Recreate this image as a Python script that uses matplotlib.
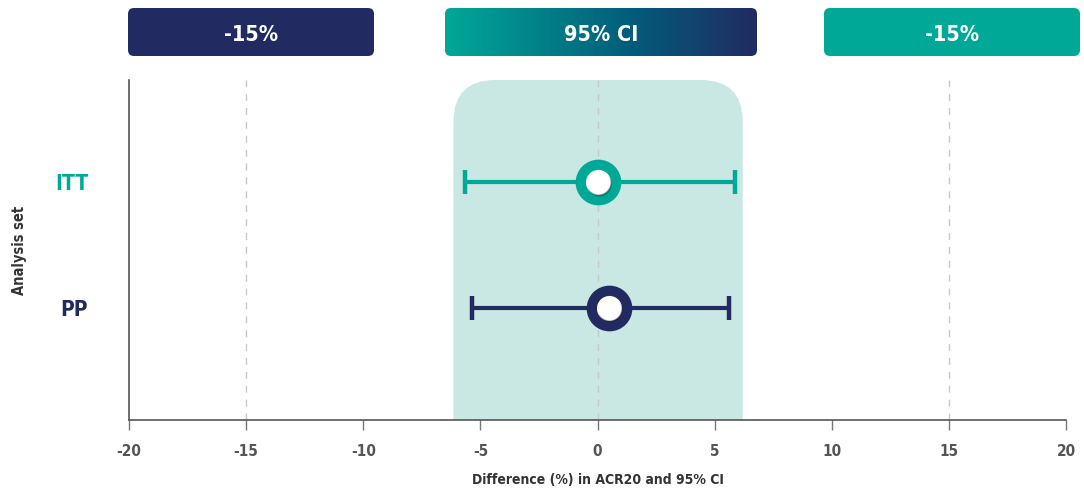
import matplotlib
matplotlib.use("Agg")
import matplotlib.pyplot as plt
import numpy as np
from matplotlib.patches import FancyBboxPatch
from matplotlib.colors import LinearSegmentedColormap
from matplotlib import font_manager

# ---- data ----
groups = ["ITT", "PP"]
group_y = [2, 1]
estimates = [0.0, 0.5]
ci_low = [-5.66, -5.37]
ci_high = [5.86, 5.63]
band_range = [-6.15, 6.2]
margin_lines = [-15, 0, 15]
x_ticks = [-20, -15, -10, -5, 0, 5, 10, 15, 20]
box_labels = ["-15%", "95% CI", "-15%"]

TEAL = "#00A898"
NAVY = "#212B62"
BAND = "#C9E8E3"
GRAY = "#555555"

# ---- font: prefer a condensed sans if installed ----
fl = font_manager.fontManager.ttflist
cands = [f for f in fl if (str(f.stretch) in ("condensed", "semi-condensed", "extra-condensed")
                           or "Condensed" in f.name or "Narrow" in f.name)]
def rank(f):
    r = 0
    if "Sans" in f.name: r -= 2
    if "Liberation" in f.name: r -= 3
    if "Noto" in f.name: r -= 1
    return r
cands.sort(key=rank)
if cands:
    fam = cands[0].name
    stretch = "condensed"
else:
    fam = "Roboto"
    stretch = "normal"
plt.rcParams["font.family"] = [fam, "DejaVu Sans"]
plt.rcParams["font.weight"] = "bold"
plt.rcParams["font.stretch"] = stretch
plt.rcParams["axes.labelweight"] = "bold"
narrow = bool(cands)
sc = 1.0 if narrow else 0.86

W, H = 1084, 490
fig = plt.figure(figsize=(W / 100, H / 100), dpi=100)

ax_l, ax_r, ax_b, ax_t = 129, 1066, 420, 80
ax = fig.add_axes([ax_l / W, (H - ax_b) / H, (ax_r - ax_l) / W, (ax_b - ax_t) / H])
xmin, xmax = -20, 20
ymin, ymax = 0.111, 2.81
ax.set_xlim(xmin, xmax)
ax.set_ylim(ymin, ymax)

# rounded-top band
xu = (xmax - xmin) / (ax_r - ax_l)
yu = (ymax - ymin) / (ax_b - ax_t)
r_px = 42
band = FancyBboxPatch((band_range[0], ymin - 1.0), band_range[1] - band_range[0],
                      ymax - (ymin - 1.0),
                      boxstyle=f"round,pad=0,rounding_size={r_px * xu}",
                      mutation_aspect=yu / xu, fc=BAND, ec="none", zorder=0,
                      clip_on=True)
ax.add_patch(band)

for m in margin_lines:
    ax.axvline(m, color="#c8c8c8", lw=1, ls=(0, (5, 5)), zorder=1)

colors = [TEAL, NAVY]
for y, e, lo, hi, c in zip(group_y, estimates, ci_low, ci_high, colors):
    ax.errorbar([e], [y], xerr=[[e - lo], [hi - e]], fmt="none", ecolor=c,
                elinewidth=3, capsize=8.5, capthick=3.2, zorder=3)
    ax.plot([e], [y], "o", ms=25.5, mfc="white", mec=c, mew=7.4, zorder=4)
    ax.plot([e + 0.05], [y - 0.014], "o", ms=17.5, mfc="#222222", mec="none",
            alpha=0.35, zorder=4.5)
    ax.plot([e], [y], "o", ms=17, mfc="white", mec="none", zorder=5)

for s in ["top", "right"]:
    ax.spines[s].set_visible(False)
for s in ["left", "bottom"]:
    ax.spines[s].set_color(GRAY)
    ax.spines[s].set_linewidth(1.2)

ax.set_xticks(x_ticks)
ax.set_xticklabels([str(t) for t in x_ticks])
ax.tick_params(axis="x", length=7.2, width=1, color="#777777", labelsize=11 * sc,
               labelcolor=GRAY, pad=10)
ax.set_yticks(group_y)
ax.set_yticklabels(groups, fontsize=15 * sc)
for lbl, c in zip(ax.get_yticklabels(), colors):
    lbl.set_color(c)
ax.tick_params(axis="y", length=0, pad=29.5)
ax.set_xlabel("Difference (%) in ACR20 and 95% CI", fontsize=10 * sc, color="#333333",
              fontweight="bold")
ax.xaxis.set_label_coords(0.5, -0.155)
ax.set_ylabel("Analysis set", fontsize=10.5 * sc, color="#333333", fontweight="bold")
ax.yaxis.set_label_coords(-0.117, 0.5)
ax.yaxis.label.set_va("center")

# top label boxes (figure pixel positions)
box_px = [(128, 374), (445, 757), (824, 1080)]
box_y0, box_y1 = 8, 56
fills = [NAVY, "grad", TEAL]
for (x0, x1), lab, f in zip(box_px, box_labels, fills):
    bw, bh = x1 - x0, box_y1 - box_y0
    gax = fig.add_axes([x0 / W, 1 - box_y1 / H, bw / W, bh / H], zorder=5)
    gax.set_axis_off()
    gax.set_xlim(0, 1)
    gax.set_ylim(0, 1)
    style = f"round,pad=0,rounding_size={6 / bw}"
    if f == "grad":
        clip = FancyBboxPatch((0, 0), 1, 1, boxstyle=style, mutation_aspect=bw / bh,
                              transform=gax.transAxes, fc="none", ec="none")
        gax.add_patch(clip)
        grad = np.linspace(0, 1, 256).reshape(1, -1)
        cmap = LinearSegmentedColormap.from_list(
            "g", [(0, TEAL), (0.6, "#035C7A"), (1, NAVY)])
        im = gax.imshow(grad, aspect="auto", cmap=cmap, extent=[0, 1, 0, 1],
                        transform=gax.transAxes, zorder=2)
        im.set_clip_path(clip)
        gax.set_xlim(0, 1)
        gax.set_ylim(0, 1)
    else:
        gax.add_patch(FancyBboxPatch((0, 0), 1, 1, boxstyle=style, mutation_aspect=bw / bh,
                                     transform=gax.transAxes, fc=f, ec="none"))
    gax.text(0.5, 0.44, lab, color="white", fontsize=15.5 * sc, ha="center", va="center",
             transform=gax.transAxes, zorder=6)

fig.savefig("out.png", dpi=100)
